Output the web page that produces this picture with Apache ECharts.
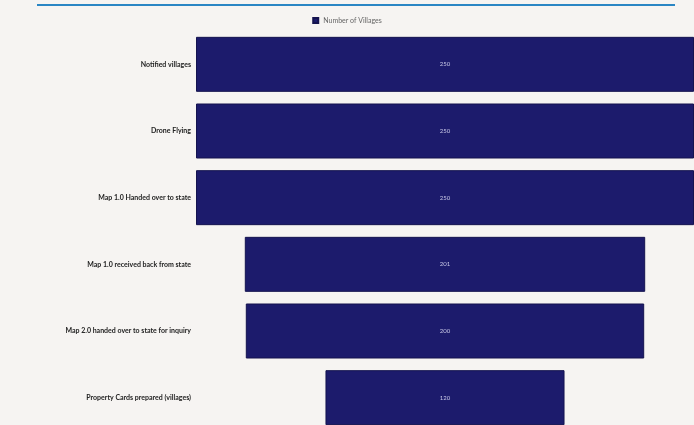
<!DOCTYPE html>
<html>
<head>
<meta charset="utf-8">
<script src="https://cdn.jsdelivr.net/npm/echarts@6/dist/echarts.min.js"></script>
<style>
  html, body { margin: 0; padding: 0; background: #f6f4f2; overflow: hidden; }
  #chart { width: 694px; height: 431px; }
</style>
</head>
<body>
<div id="chart"></div>
<script>
// 漏斗式条形图 - 村庄数量
const stages = [
  'Notified villages',
  'Drone Flying',
  'Map 1.0 Handed over to state',
  'Map 1.0 received back from state',
  'Map 2.0 handed over to state for inquiry',
  'Property Cards prepared (villages)'
]
const villages = [250, 250, 250, 201, 200, 120]
const maxValue = 250

// 透明占位，使条形居中
const offsets = villages.map(v => (maxValue - v) / 2)

const myChart = echarts.init(document.getElementById('chart'))
myChart.setOption({
  backgroundColor: '#f6f4f2',
  animation: false,
  graphic: [
    {
      type: 'rect',
      shape: { x: 37, y: 4, width: 638, height: 2 },
      style: { fill: '#2a86c4' }
    }
  ],
  legend: {
    top: 12,
    left: 'center',
    itemWidth: 5,
    itemHeight: 5,
    itemGap: 4,
    icon: 'rect',
    textStyle: {
      color: '#666666',
      fontSize: 7,
      fontFamily: 'Lato'
    },
    data: ['Number of Villages']
  },
  grid: {
    left: 196,
    right: 0,
    top: 31,
    bottom: 0,
    containLabel: false
  },
  xAxis: {
    type: 'value',
    min: 0,
    max: maxValue,
    show: false
  },
  yAxis: {
    type: 'category',
    inverse: true,
    data: stages,
    axisTick: { show: false },
    axisLine: { show: false },
    axisLabel: {
      margin: 5,
      color: '#222222',
      fontSize: 7,
      fontWeight: 'bold',
      fontFamily: 'Lato'
    }
  },
  series: [
    {
      name: 'offset',
      type: 'bar',
      stack: 'funnel',
      barWidth: 55,
      silent: true,
      itemStyle: { color: 'transparent' },
      data: offsets
    },
    {
      name: 'Number of Villages',
      type: 'bar',
      stack: 'funnel',
      barWidth: 55,
      itemStyle: {
        color: '#1c1b6c',
        borderColor: '#14134f',
        borderWidth: 1
      },
      label: {
        show: true,
        position: 'inside',
        color: '#c8c8e6',
        fontSize: 6,
        fontFamily: 'Lato'
      },
      data: villages
    }
  ]
})
</script>
</body>
</html>
